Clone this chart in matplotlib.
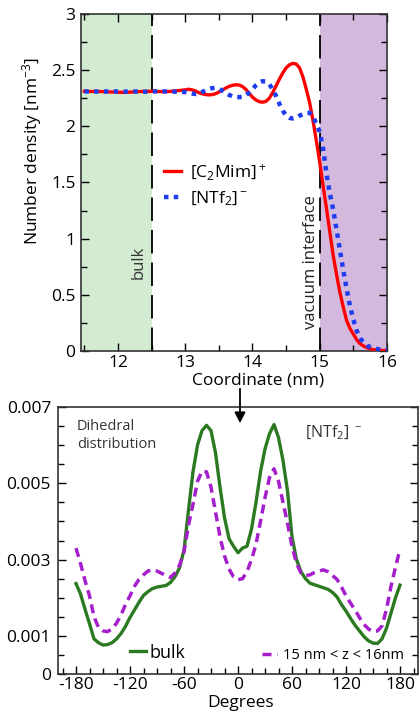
import numpy as np
import matplotlib
matplotlib.use('Agg')
import matplotlib.pyplot as plt
from matplotlib.ticker import MultipleLocator, FixedLocator

plt.rcParams['font.family'] = ['Open Sans', 'DejaVu Sans']
plt.rcParams['mathtext.fontset'] = 'custom'
plt.rcParams['mathtext.rm'] = 'Open Sans'
plt.rcParams['mathtext.it'] = 'Open Sans:italic'
plt.rcParams['axes.unicode_minus'] = False

# ---- top panel: number density profiles ----
coord = [11.5, 11.6, 11.7, 11.8, 11.9, 12.0, 12.1, 12.2, 12.3, 12.4, 12.5, 12.6, 12.7, 12.8, 12.9,
         13.0, 13.05, 13.1, 13.15, 13.2, 13.25, 13.3, 13.35, 13.4, 13.45, 13.5, 13.55, 13.6, 13.65,
         13.7, 13.75, 13.8, 13.85, 13.9, 13.95, 14.0, 14.05, 14.1, 14.15, 14.2, 14.25, 14.3, 14.35,
         14.4, 14.45, 14.5, 14.55, 14.6, 14.65, 14.7, 14.75, 14.8, 14.85, 14.9, 14.95, 15.0, 15.05,
         15.1, 15.15, 15.2, 15.25, 15.3, 15.35, 15.4, 15.45, 15.5, 15.55, 15.6, 15.65, 15.7, 15.75,
         15.8, 15.85, 15.9, 15.95, 16.0]
cation = [2.312, 2.310, 2.311, 2.308, 2.306, 2.304, 2.302, 2.305, 2.309, 2.311, 2.312, 2.310, 2.308, 2.312, 2.318,
          2.325, 2.330, 2.325, 2.315, 2.300, 2.290, 2.283, 2.280, 2.282, 2.290, 2.305, 2.322, 2.340, 2.355,
          2.365, 2.370, 2.368, 2.355, 2.330, 2.295, 2.260, 2.235, 2.220, 2.215, 2.222, 2.250, 2.300, 2.360,
          2.420, 2.475, 2.520, 2.548, 2.560, 2.555, 2.520, 2.440, 2.330, 2.210, 2.050, 1.870, 1.680, 1.470,
          1.270, 1.060, 0.850, 0.680, 0.520, 0.390, 0.270, 0.200, 0.150, 0.100, 0.065, 0.045, 0.030, 0.018,
          0.012, 0.008, 0.006, 0.005, 0.005]
anion = [2.310, 2.311, 2.309, 2.310, 2.312, 2.310, 2.309, 2.311, 2.310, 2.308, 2.310, 2.312, 2.311, 2.309, 2.308,
         2.305, 2.300, 2.292, 2.288, 2.292, 2.305, 2.320, 2.333, 2.340, 2.342, 2.335, 2.318, 2.298, 2.280,
         2.268, 2.262, 2.260, 2.262, 2.275, 2.300, 2.330, 2.365, 2.390, 2.402, 2.398, 2.375, 2.330, 2.270,
         2.200, 2.140, 2.095, 2.075, 2.070, 2.078, 2.095, 2.110, 2.120, 2.120, 2.090, 2.020, 1.950, 1.800,
         1.580, 1.400, 1.260, 1.080, 0.900, 0.720, 0.550, 0.400, 0.280, 0.180, 0.115, 0.075, 0.050, 0.035,
         0.025, 0.018, 0.012, 0.010, 0.008]

# ---- bottom panel: dihedral distribution of [NTf2]- ----
degrees = list(range(-180, 181, 5))
bulk = [0.00237, 0.00210, 0.00170, 0.00132, 0.00092, 0.00082, 0.00076, 0.00077, 0.00082, 0.00092,
        0.00106, 0.00125, 0.00148, 0.00168, 0.00188, 0.00206, 0.00216, 0.00224, 0.00228, 0.00230,
        0.00232, 0.00240, 0.00255, 0.00278, 0.00325, 0.00430, 0.00530, 0.00600, 0.00638, 0.00652,
        0.00638, 0.00580, 0.00490, 0.00410, 0.00355, 0.00335, 0.00318, 0.00330, 0.00335, 0.00380,
        0.00450, 0.00530, 0.00590, 0.00630, 0.00654, 0.00620, 0.00560, 0.00480, 0.00360, 0.00300,
        0.00268, 0.00250, 0.00238, 0.00234, 0.00230, 0.00226, 0.00222, 0.00214, 0.00202, 0.00182,
        0.00165, 0.00146, 0.00128, 0.00113, 0.00098, 0.00087, 0.00081, 0.00080, 0.00092, 0.00120,
        0.00160, 0.00200, 0.00233]
surface = [0.00330, 0.00290, 0.00245, 0.00205, 0.00150, 0.00122, 0.00113, 0.00111, 0.00118, 0.00133,
           0.00155, 0.00182, 0.00205, 0.00230, 0.00248, 0.00260, 0.00270, 0.00273, 0.00270, 0.00264,
           0.00258, 0.00253, 0.00265, 0.00285, 0.00320, 0.00390, 0.00445, 0.00505, 0.00532, 0.00530,
           0.00490, 0.00425, 0.00360, 0.00310, 0.00275, 0.00255, 0.00247, 0.00250, 0.00268, 0.00300,
           0.00340, 0.00400, 0.00462, 0.00515, 0.00538, 0.00505, 0.00450, 0.00395, 0.00335, 0.00290,
           0.00265, 0.00258, 0.00260, 0.00266, 0.00270, 0.00273, 0.00268, 0.00258, 0.00248, 0.00228,
           0.00205, 0.00186, 0.00168, 0.00148, 0.00130, 0.00118, 0.00111, 0.00113, 0.00126, 0.00170,
           0.00230, 0.00280, 0.00328]

fig = plt.figure(figsize=(4.2, 7.11), dpi=100)

ax1 = fig.add_axes([81/420, 360/711, 306/420, 337/711])
ax1.axvspan(11.45, 12.5, color='#d3ebd1', lw=0)
ax1.axvspan(15.0, 16.0, color='#d4b9de', lw=0)
ax1.axvline(12.5, color='k', lw=1.3, dashes=(13, 5))
ax1.axvline(15.0, color='k', lw=1.3, dashes=(13, 5))
ax1.plot(coord, cation, color='#ff0000', lw=2.4, label='[C$_2$Mim]$^+$', zorder=3)
ax1.plot(coord, anion, color='#1e3cf0', lw=3.2, dashes=(1.0, 1.2), label='[NTf$_2$]$^-$', zorder=4)
ax1.set_xlim(11.45, 16.0)
ax1.set_ylim(0, 3)
ax1.xaxis.set_major_locator(MultipleLocator(1))
ax1.xaxis.set_minor_locator(MultipleLocator(0.5))
ax1.yaxis.set_minor_locator(MultipleLocator(0.25))
ax1.set_yticks([0, 0.5, 1, 1.5, 2, 2.5, 3])
ax1.set_yticklabels(['0', '0.5', '1', '1.5', '2', '2.5', '3'])
ax1.tick_params(which='both', direction='in', top=True, right=True, labelsize=12.5, pad=4)
ax1.tick_params(axis='x', pad=3)
ax1.tick_params(which='major', length=6, width=1)
ax1.tick_params(which='minor', length=4, width=1)
for s in ax1.spines.values():
    s.set_color('#333333')
    s.set_linewidth(1.2)
ax1.set_xlabel('Coordinate (nm)', fontsize=12.5)
ax1.set_ylabel('Number density [nm$^{-3}$]', fontsize=12.5)
ax1.xaxis.set_label_coords(0.578, -0.064)
ax1.yaxis.set_label_coords(-0.122, 0.595)
ax1.text(12.30, 0.79, 'bulk', rotation=90, ha='center', va='center', fontsize=12, color='#333333')
ax1.text(14.87, 0.79, 'vacuum interface', rotation=90, ha='center', va='center', fontsize=12, color='#222222')
ax1.legend(loc='upper left', bbox_to_anchor=(0.27, 0.56), frameon=False, fontsize=12.5,
           handlelength=1.0, handletextpad=0.5, labelspacing=0.42, borderpad=0, borderaxespad=0)

ax2 = fig.add_axes([58/420, 37/711, 360/420, 267/711])
l_bulk, = ax2.plot(degrees, bulk, color='#2b7a22', lw=2.4)
l_surf, = ax2.plot(degrees, surface, color='#a61fcc', lw=2.5, dashes=(2.6, 1.6))
ax2.set_xlim(-200, 200)
ax2.set_ylim(0, 0.007)
ax2.xaxis.set_major_locator(MultipleLocator(60))
ax2.xaxis.set_minor_locator(MultipleLocator(15))
ax2.yaxis.set_major_locator(FixedLocator([0, 0.001, 0.003, 0.005, 0.007]))
ax2.yaxis.set_minor_locator(MultipleLocator(0.0005))
ax2.set_yticklabels(['0', '0.001', '0.003', '0.005', '0.007'])
ax2.tick_params(which='both', direction='in', right=True, labelsize=12.5, pad=5)
ax2.tick_params(axis='x', pad=2)
ax2.tick_params(which='major', length=6, width=1)
ax2.tick_params(which='minor', length=4, width=1)
for s in ax2.spines.values():
    s.set_color('#333333')
    s.set_linewidth(1.2)
ax2.set_xlabel('Degrees', fontsize=12.5)
ax2.xaxis.set_label_coords(0.506, -0.077)
ax2.text(0.053, 0.955, 'Dihedral\ndistribution', transform=ax2.transAxes, ha='left', va='top',
         fontsize=10.5, color='#333333', linespacing=1.3)
ax2.text(0.687, 0.905, '[NTf$_2$] $^-$', transform=ax2.transAxes, ha='left', va='center',
         fontsize=11.5, color='#333333')
leg1 = ax2.legend([l_bulk], ['bulk'], loc='center left', bbox_to_anchor=(0.2, 0.08), frameon=False,
                  fontsize=13, handlelength=0.9, handletextpad=0.2, borderpad=0, borderaxespad=0)
ax2.add_artist(leg1)
ax2.legend([l_surf], ['15 nm < z < 16nm'], loc='center left', bbox_to_anchor=(0.568, 0.07),
           frameon=False, fontsize=10.5, handlelength=1.0, handletextpad=0.4, borderpad=0,
           borderaxespad=0)

fig.add_artist(matplotlib.patches.FancyArrowPatch((240/420, 1 - 386/711), (240/420, 1 - 426/711),
                                                  transform=fig.transFigure, arrowstyle='-|>',
                                                  mutation_scale=16, color='k', lw=1.3))

fig.savefig('out.png', dpi=100)
